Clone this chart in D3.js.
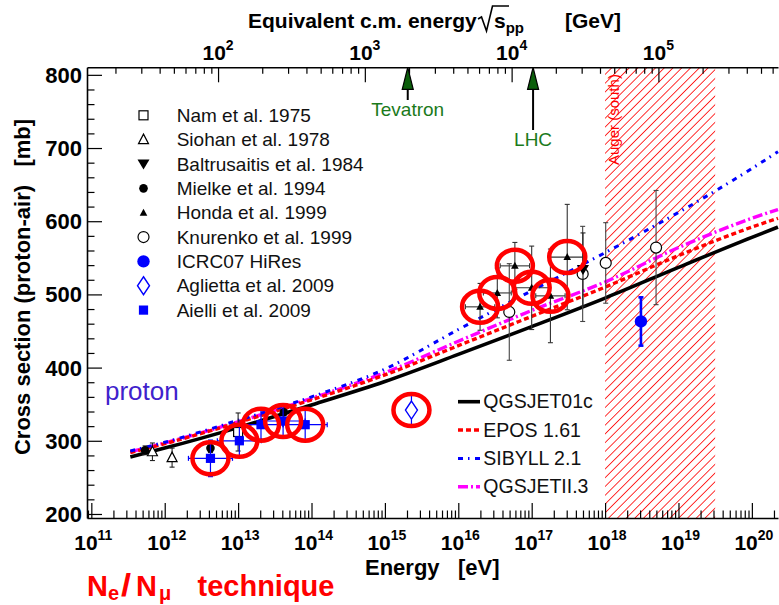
<!DOCTYPE html>
<html>
<head>
<meta charset="utf-8">
<script src="https://cdn.jsdelivr.net/npm/d3@7"></script>
<style>
  body { margin: 0; background: #fff; }
  svg { display: block; font-family: "Liberation Sans", Arial, Helvetica, sans-serif; }
</style>
</head>
<body>
<svg id="chart" width="779" height="605"></svg>
<script>
// ---- data (energy in eV, cross section in mb)
const modelEnergy = [3.4e11, 1e12, 1e13, 1e14, 1e15, 1e16, 1e17, 1e18, 1e19, 1e20, 2.27e20];
const qgsjet01c = [278, 290, 318, 349, 381, 418, 456, 495, 537, 578, 592];
const epos161   = [284, 296, 325, 356, 390, 430, 470, 510, 553, 592, 604];
const sibyll21  = [286, 298, 328, 360, 398, 452, 505, 557, 612, 672, 695];
const qgsjetII3 = [285, 297, 326, 358, 393, 436, 478, 517, 564, 604, 616];
const modelNames = ['QGSJET01c', 'EPOS 1.61', 'SIBYLL 2.1', 'QGSJETII.3'];

// [energy, sigma, sigma error]
const nam1975 = [[1.0e13, 312, 26]];
const siohan1978 = [[6.8e11, 285, 12], [1.26e12, 277, 13]];
const baltrusaitis1984 = [[5.0e17, 534, 50]];
const mielke1994 = [[5.4e11, 287, 6], [4.2e12, 290, 6], [4.2e13, 339, 8]];
const knurenko1999 = [[4.95e16, 476, 66], [4.95e17, 528, 65], [1.02e18, 543, 55], [4.95e18, 564, 78]];
const hires2007 = [[3.08e18, 463, 33]];
const aglietta2009 = [[2.3e15, 342, 23]];
// [energy, sigma, sigma error, energy error in decades]
const honda1999 = [[1.98e16, 483, 32, 0.2], [3.4e16, 502, 34, 0.19], [5.9e16, 539, 32, 0.2],
                   [1.0e17, 509, 57, 0.23], [1.8e17, 498, 64, 0.2], [3.05e17, 551, 72, 0.23]];
const aielli2009 = [[4.2e12, 276, 25, 0.3], [1.04e13, 300, 22, 0.3], [2.05e13, 322, 20, 0.3],
                    [4.1e13, 327, 23, 0.3], [8.2e13, 322, 23, 0.3]];

const legendLabels = ['Nam et al. 1975', 'Siohan et al. 1978', 'Baltrusaitis et al. 1984',
  'Mielke et al. 1994', 'Honda et al. 1999', 'Knurenko et al. 1999', 'ICRC07 HiRes',
  'Aglietta et al. 2009', 'Aielli et al. 2009'];

const energyTickExp = [11, 12, 13, 14, 15, 16, 17, 18, 19, 20];
const sqrtsTickExp = [2, 3, 4, 5];
const sigmaTicks = [200, 300, 400, 500, 600, 700, 800];
const augerRange = [1e18, 3.16e19];
const colliders = [['Tevatron', 1960], ['LHC', 14000]]; // sqrt(s) in GeV

// ---- layout
const plotLeft = 87;
const plotRight = 778;
const plotTop = 67.3;
const plotBottom = 518;
const blue = '#0000ff';
const red = '#ff0000';

const svg = d3.select('#chart');

const x = d3.scaleLog().domain([8.73e10, 2.27e20]).range([plotLeft, plotRight]);
const y = d3.scaleLinear().domain([194.5, 810.3]).range([plotBottom, plotTop]);
const sqrtS = e => Math.sqrt(2 * 0.938272 * e / 1e9);
const xTop = d3.scaleLog().domain(x.domain().map(sqrtS)).range([plotLeft, plotRight]);

// hatch pattern for Auger
const defs = svg.append('defs');
defs.append('pattern')
    .attr('id', 'hatch')
    .attr('patternUnits', 'userSpaceOnUse')
    .attr('width', 6.2)
    .attr('height', 10)
    .attr('patternTransform', 'rotate(45)')
  .append('line')
    .attr('x1', 3.1).attr('y1', -1)
    .attr('x2', 3.1).attr('y2', 11)
    .attr('stroke', red)
    .attr('stroke-width', 0.9)
    .attr('shape-rendering', 'crispEdges');

svg.append('rect')
    .attr('x', x(augerRange[0]))
    .attr('y', plotTop)
    .attr('width', x(augerRange[1]) - x(augerRange[0]))
    .attr('height', plotBottom - plotTop)
    .attr('fill', 'url(#hatch)');

svg.append('text')
    .attr('transform', `translate(${x(augerRange[0]) + 14},165) rotate(-90)`)
    .attr('font-size', 15)
    .attr('fill', red)
    .text('Auger (south)');

// model curves
const modelStyles = [
  { values: qgsjet01c, color: '#000', width: 3.6, dash: null },
  { values: qgsjetII3, color: '#ff00ff', width: 3.4, dash: '10,3,2,3' },
  { values: epos161, color: red, width: 3.4, dash: '5,3' },
  { values: sibyll21, color: blue, width: 3, dash: '5,5,1.5,5.5' },
];

const line = d3.line()
    .x(d => x(d[0]))
    .y(d => y(d[1]))
    .curve(d3.curveMonotoneX);

modelStyles.forEach((m) => {
  svg.append('path')
      .datum(modelEnergy.map((e, i) => [e, m.values[i]]))
      .attr('d', line)
      .attr('fill', 'none')
      .attr('stroke', m.color)
      .attr('stroke-width', m.width)
      .attr('stroke-dasharray', m.dash);
});

// markers
function drawMarker(g, type, cx, cy) {
  const t = `translate(${cx},${cy})`;
  if (type === 'openSquare') {
    g.append('rect').attr('x', cx - 4.5).attr('y', cy - 4.5).attr('width', 9).attr('height', 9)
      .attr('fill', '#fff').attr('stroke', '#000').attr('stroke-width', 1.2);
  } else if (type === 'openTriangle') {
    g.append('path').attr('transform', t).attr('d', 'M0,-5.5L5,4L-5,4Z')
      .attr('fill', '#fff').attr('stroke', '#000').attr('stroke-width', 1.2);
  } else if (type === 'downTriangle') {
    g.append('path').attr('transform', t).attr('d', 'M-6,-4.5L6,-4.5L0,5.5Z').attr('fill', '#000');
  } else if (type === 'dot') {
    g.append('circle').attr('cx', cx).attr('cy', cy).attr('r', 4.3).attr('fill', '#000');
  } else if (type === 'smallTriangle') {
    g.append('path').attr('transform', t).attr('d', 'M0,-4L3.8,3L-3.8,3Z').attr('fill', '#000');
  } else if (type === 'openCircle') {
    g.append('circle').attr('cx', cx).attr('cy', cy).attr('r', 5.5)
      .attr('fill', '#fff').attr('stroke', '#000').attr('stroke-width', 1.2);
  } else if (type === 'blueDot') {
    g.append('circle').attr('cx', cx).attr('cy', cy).attr('r', 6.2).attr('fill', blue);
  } else if (type === 'openDiamond') {
    g.append('path').attr('transform', t).attr('d', 'M0,-9L6,0L0,9L-6,0Z')
      .attr('fill', '#fff').attr('stroke', blue).attr('stroke-width', 1.4);
  } else if (type === 'blueSquare') {
    g.append('rect').attr('x', cx - 4.6).attr('y', cy - 4.6).attr('width', 9.2).attr('height', 9.2)
      .attr('fill', blue);
  }
}

function errorBars(g, d, color, width) {
  const cx = x(d[0]);
  const cy = y(d[1]);
  const y1 = y(d[1] + d[2]);
  const y2 = y(d[1] - d[2]);
  const s = g.append('g').attr('stroke', color).attr('stroke-width', width);
  s.append('line').attr('x1', cx).attr('x2', cx).attr('y1', y1).attr('y2', y2);
  s.append('line').attr('x1', cx - 2.5).attr('x2', cx + 2.5).attr('y1', y1).attr('y2', y1);
  s.append('line').attr('x1', cx - 2.5).attr('x2', cx + 2.5).attr('y1', y2).attr('y2', y2);
  if (d[3]) {
    const xa = x(d[0] / 10 ** d[3]);
    const xb = x(d[0] * 10 ** d[3]);
    s.append('line').attr('x1', xa).attr('x2', xb).attr('y1', cy).attr('y2', cy);
    s.append('line').attr('x1', xa).attr('x2', xa).attr('y1', cy - 2.5).attr('y2', cy + 2.5);
    s.append('line').attr('x1', xb).attr('x2', xb).attr('y1', cy - 2.5).attr('y2', cy + 2.5);
  }
}

const series = [
  { data: nam1975, type: 'openSquare', bar: '#222', bw: 1.1 },
  { data: siohan1978, type: 'openTriangle', bar: '#222', bw: 1.1 },
  { data: mielke1994, type: 'dot', bar: '#222', bw: 1.1 },
  { data: honda1999, type: 'smallTriangle', bar: '#333', bw: 1.1 },
  { data: knurenko1999, type: 'openCircle', bar: '#444', bw: 1.1 },
  { data: baltrusaitis1984, type: 'downTriangle', bar: '#222', bw: 1.1 },
  { data: hires2007, type: 'blueDot', bar: blue, bw: 2.6 },
  { data: aglietta2009, type: 'openDiamond', bar: blue, bw: 1.2 },
  { data: aielli2009, type: 'blueSquare', bar: blue, bw: 1.2 },
];

const pts = svg.append('g');
series.forEach((s) => {
  s.data.forEach((d) => {
    errorBars(pts, d, s.bar, s.bw);
    drawMarker(pts, s.type, x(d[0]), y(d[1]));
  });
});

// red highlight rings
const highlighted = aielli2009.concat(aglietta2009, honda1999);
svg.append('g').selectAll('ellipse')
  .data(highlighted)
  .join('ellipse')
    .attr('cx', d => x(d[0]))
    .attr('cy', d => y(d[1]))
    .attr('rx', 18)
    .attr('ry', 16)
    .attr('fill', 'none')
    .attr('stroke', red)
    .attr('stroke-width', 4.5);

// ---- axes
function minorValues(scale) {
  const [a, b] = scale.domain();
  const out = [];
  for (let p = Math.floor(Math.log10(a)); p <= Math.ceil(Math.log10(b)); p += 1) {
    for (let k = 2; k <= 9; k += 1) {
      const v = k * 10 ** p;
      if (v >= a && v <= b) out.push(v);
    }
  }
  return out;
}

function styleAxis(g) {
  g.select('.domain').attr('stroke-width', 1.6);
  g.selectAll('.tick line').attr('stroke-width', 1.2);
}

svg.append('g')
    .attr('transform', `translate(0,${plotBottom})`)
    .call(d3.axisBottom(x).tickValues(energyTickExp.map(p => 10 ** p))
      .tickSize(-15).tickSizeOuter(0).tickFormat(''))
    .call(styleAxis);
svg.append('g')
    .attr('transform', `translate(0,${plotBottom})`)
    .call(d3.axisBottom(x).tickValues(minorValues(x)).tickSize(-7.5).tickSizeOuter(0).tickFormat(''))
    .call(styleAxis)
    .call(g => g.select('.domain').remove());

svg.append('g')
    .attr('transform', `translate(0,${plotTop})`)
    .call(d3.axisTop(xTop).tickValues(sqrtsTickExp.map(p => 10 ** p))
      .tickSize(-15).tickSizeOuter(0).tickFormat(''))
    .call(styleAxis);
svg.append('g')
    .attr('transform', `translate(0,${plotTop})`)
    .call(d3.axisTop(xTop).tickValues(minorValues(xTop)).tickSize(-6.5).tickSizeOuter(0).tickFormat(''))
    .call(styleAxis)
    .call(g => g.select('.domain').remove());

svg.append('g')
    .attr('transform', `translate(${plotLeft},0)`)
    .call(d3.axisLeft(y).tickValues(sigmaTicks).tickSize(-15).tickSizeOuter(0).tickFormat(''))
    .call(styleAxis);
svg.append('g')
    .attr('transform', `translate(${plotLeft},0)`)
    .call(d3.axisLeft(y).tickValues(d3.range(200, 811, 20).filter(v => v % 100 !== 0))
      .tickSize(-7.5).tickSizeOuter(0).tickFormat(''))
    .call(styleAxis)
    .call(g => g.select('.domain').remove());

// tick labels
const bold = g => g.attr('font-weight', 'bold').attr('fill', '#000');

sigmaTicks.forEach((v) => {
  svg.append('text').call(bold)
      .attr('x', 82).attr('y', y(v) + 8)
      .attr('text-anchor', 'end')
      .attr('font-size', 22)
      .text(v);
});

function powerLabel(px, py, exp) {
  const t = svg.append('text').call(bold)
      .attr('x', px).attr('y', py)
      .attr('text-anchor', 'middle')
      .attr('font-size', 21);
  t.append('tspan').text('10');
  t.append('tspan').attr('dy', -10).attr('font-size', 14).text(exp);
}
energyTickExp.forEach(p => powerLabel(x(10 ** p) + 2, 550, p));
sqrtsTickExp.forEach(p => powerLabel(xTop(10 ** p), 60, p));

// axis titles
svg.append('text').call(bold)
    .attr('x', 365).attr('y', 575)
    .attr('font-size', 22)
    .text('Energy\u00a0\u00a0\u00a0[eV]');

svg.append('text').call(bold)
    .attr('transform', 'translate(30,287) rotate(-90)')
    .attr('text-anchor', 'middle')
    .attr('font-size', 22)
    .text('Cross section (proton-air)\u00a0\u00a0\u00a0[mb]');

const title = svg.append('g').call(bold);
title.append('text').attr('x', 248).attr('y', 28).attr('font-size', 21)
    .text('Equivalent c.m. energy');
title.append('path')
    .attr('d', 'M478,19 L481.5,17 L486.5,31 L492.5,6 L509,6')
    .attr('fill', 'none')
    .attr('stroke', '#000')
    .attr('stroke-width', 1.6);
const sText = title.append('text').attr('x', 494).attr('y', 28).attr('font-size', 21);
sText.append('tspan').text('s');
sText.append('tspan').attr('dy', 5).attr('font-size', 15).text('pp');
title.append('text').attr('x', 565).attr('y', 28).attr('font-size', 21).text('[GeV]');

// collider arrows
colliders.forEach(([name, rs], i) => {
  const cx = xTop(rs);
  const shaftEnd = i === 0 ? 100 : 130;
  svg.append('line')
      .attr('x1', cx).attr('x2', cx)
      .attr('y1', plotTop + 10).attr('y2', shaftEnd)
      .attr('stroke', '#000').attr('stroke-width', 2);
  svg.append('path')
      .attr('d', `M${cx},${plotTop}L${cx + 5.5},${plotTop + 22}L${cx - 5.5},${plotTop + 22}Z`)
      .attr('fill', '#0b5e0b')
      .attr('stroke', '#000')
      .attr('stroke-width', 1.2);
  svg.append('text')
      .attr('x', cx).attr('y', shaftEnd + 16)
      .attr('text-anchor', 'middle')
      .attr('font-size', 19)
      .attr('fill', '#1b7a1b')
      .text(name);
});

// proton label
svg.append('text')
    .attr('x', 105).attr('y', 400)
    .attr('font-size', 26)
    .attr('fill', '#3f22cc')
    .text('proton');

// data legend
const legendMarkers = ['openSquare', 'openTriangle', 'downTriangle', 'dot', 'smallTriangle',
  'openCircle', 'blueDot', 'openDiamond', 'blueSquare'];
const leg = svg.append('g');
legendLabels.forEach((label, i) => {
  const cy = 115.3 + i * 24.35;
  drawMarker(leg, legendMarkers[i], 143.5, cy);
  leg.append('text')
      .attr('x', 176.7).attr('y', cy + 6.6)
      .attr('font-size', 19)
      .attr('fill', '#111')
      .text(label);
});

// model legend
const modelLegendOrder = [0, 2, 3, 1];
const mleg = svg.append('g');
modelNames.forEach((name, i) => {
  const m = modelStyles[modelLegendOrder[i]];
  const cy = 401.7 + i * 28.35;
  mleg.append('line')
      .attr('x1', 458).attr('x2', 480)
      .attr('y1', cy).attr('y2', cy)
      .attr('stroke', m.color)
      .attr('stroke-width', m.width)
      .attr('stroke-dasharray', m.dash);
  mleg.append('text')
      .attr('x', 483.3).attr('y', cy + 6.7)
      .attr('font-size', 19.5)
      .attr('fill', '#111')
      .text(name);
});

// technique label
const tech = svg.append('g')
    .attr('font-size', 29)
    .attr('font-weight', 'bold')
    .attr('fill', red);
const techParts = [['N', 87, 0, 29], ['e', 108, 4, 20], ['/', 121, 0, 29], ['N', 136, 0, 29],
  ['\u03bc', 159, 4, 20], ['technique', 197.5, 0, 29]];
techParts.forEach(([txt, px, dy, fs]) => {
  tech.append('text')
      .attr('x', px).attr('y', 596 + dy)
      .attr('font-size', fs)
      .attr('transform', txt === '/' ? `translate(${px},596) scale(1.25,1.08) translate(${-px},-596)` : null)
      .text(txt);
});
</script>
</body>
</html>
